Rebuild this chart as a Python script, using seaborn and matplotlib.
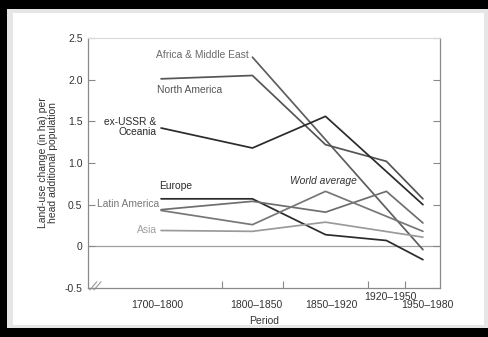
import numpy as np
import pandas as pd
import seaborn as sns
import matplotlib.pyplot as plt
from matplotlib.patches import Rectangle

# periods and the midpoint year each value is plotted at
periods = ["1700–1800", "1800–1850", "1850–1920", "1920–1950", "1950–1980"]
mid_years = [1750, 1825, 1885, 1935, 1965]

# land-use change (ha) per head of additional population, None = not shown
africa_me = [None, 2.27, None, None, -0.04]
north_america = [2.01, 2.05, 1.22, 1.02, 0.57]
ex_ussr = [1.42, 1.18, 1.56, None, 0.50]
europe = [0.57, 0.57, 0.14, 0.07, -0.16]
latin_america = [0.44, 0.54, 0.41, 0.66, 0.28]
world_avg = [0.43, 0.26, 0.66, None, 0.18]
asia = [0.19, 0.18, 0.29, None, 0.11]

series = {
    "Africa & Middle East": africa_me,
    "North America": north_america,
    "ex-USSR & Oceania": ex_ussr,
    "Europe": europe,
    "Latin America": latin_america,
    "World average": world_avg,
    "Asia": asia,
}
colors = {
    "Africa & Middle East": "#5e5e5e",
    "North America": "#555555",
    "ex-USSR & Oceania": "#2b2b2b",
    "Europe": "#2b2b2b",
    "Latin America": "#6e6e6e",
    "World average": "#777777",
    "Asia": "#9a9a9a",
}

rows = []
for name, vals in series.items():
    for yr, v in zip(mid_years, vals):
        if v is not None:
            rows.append({"year": yr, "value": v, "region": name})
df = pd.DataFrame(rows)

sns.set_style("white")
plt.rcParams['font.family'] = ['Liberation Sans', 'DejaVu Sans']

fig = plt.figure(figsize=(4.89, 3.37), dpi=100, facecolor="black")
# picture frame: black edge, grey band, white inside
fig.patches.append(Rectangle((7/489, 9/337), 482/489, 319/337, transform=fig.transFigure,
                             facecolor="#e6e6e6", edgecolor="none", zorder=-10))
fig.patches.append(Rectangle((13/489, 12/337), 471/489, 312/337, transform=fig.transFigure,
                             facecolor="white", edgecolor="none", zorder=-9))

ax = fig.add_axes([88/489, 1 - 288/337, 352/489, 250/337])
ax.set_zorder(5)
ax.set_facecolor("none")

sns.lineplot(data=df, x="year", y="value", hue="region", palette=colors,
             linewidth=1.25, legend=False, ax=ax)

ax.axhline(0, color="#a0a0a0", linewidth=0.9, zorder=0)

ax.set_xlim(1690, 1979)
ax.set_ylim(-0.5, 2.5)

ax.set_yticks([-0.5, 0, 0.5, 1.0, 1.5, 2.0, 2.5])
ax.set_yticklabels(["-0.5", "0", "0.5", "1.0", "1.5", "2.0", "2.5"])
ax.tick_params(axis="y", direction="in", length=5, color="#888888", labelsize=7.5,
               labelcolor="#333333", right=True, left=True, pad=4)

# boundary ticks between periods, period names set under each span
ax.set_xticks([1800, 1850, 1920, 1950])
ax.set_xticklabels([])
ax.tick_params(axis="x", direction="in", length=5, color="#888888", bottom=True)
label_shift = [-3, 3, 5, 3, 4]
for lab, yr, sh in zip(periods, mid_years, label_shift):
    yfrac = -0.034 if lab == "1920–1950" else -0.07
    ax.text(yr + sh, yfrac, lab, transform=ax.get_xaxis_transform(),
            ha="center", va="center", fontsize=7.5, color="#333333")

for s in ["left", "bottom", "right"]:
    ax.spines[s].set_color("#8a8a8a")
    ax.spines[s].set_linewidth(0.9)
ax.spines["top"].set_color("#d8d8d8")
ax.spines["top"].set_linewidth(0.8)

# axis break marks
for dx in [0.0, 0.012]:
    ax.plot([0.005 + dx, 0.025 + dx], [-0.008, 0.025], transform=ax.transAxes,
            color="#999999", linewidth=0.8, clip_on=False)

ax.set_xlabel("Period", fontsize=7.5, color="#333333", labelpad=17)
ax.set_ylabel("Land-use change (in ha) per\nhead additional population", fontsize=7.5,
              color="#333333", labelpad=5, linespacing=1.0)

# series labels
ax.text(1822, 2.30, "Africa & Middle East", ha="right", va="center", fontsize=7.4, color="#6a6a6a")
ax.text(1747, 1.88, "North America", ha="left", va="center", fontsize=7.4, color="#555555")
ax.text(1746, 1.43, "ex-USSR &\nOceania", ha="right", va="center", fontsize=7.4, color="#2b2b2b",
        linespacing=1.0)
ax.text(1748, 0.72, "Europe", ha="left", va="center", fontsize=7.4, color="#2b2b2b")
ax.text(1748, 0.51, "Latin America", ha="right", va="center", fontsize=7.4, color="#777777")
ax.text(1747, 0.20, "Asia", ha="right", va="center", fontsize=7.4, color="#a0a0a0")
ax.text(1883, 0.78, "World average", ha="center", va="center", fontsize=7.4, color="#333333",
        style="italic")

fig.savefig("out.png", dpi=100, facecolor=fig.get_facecolor())
